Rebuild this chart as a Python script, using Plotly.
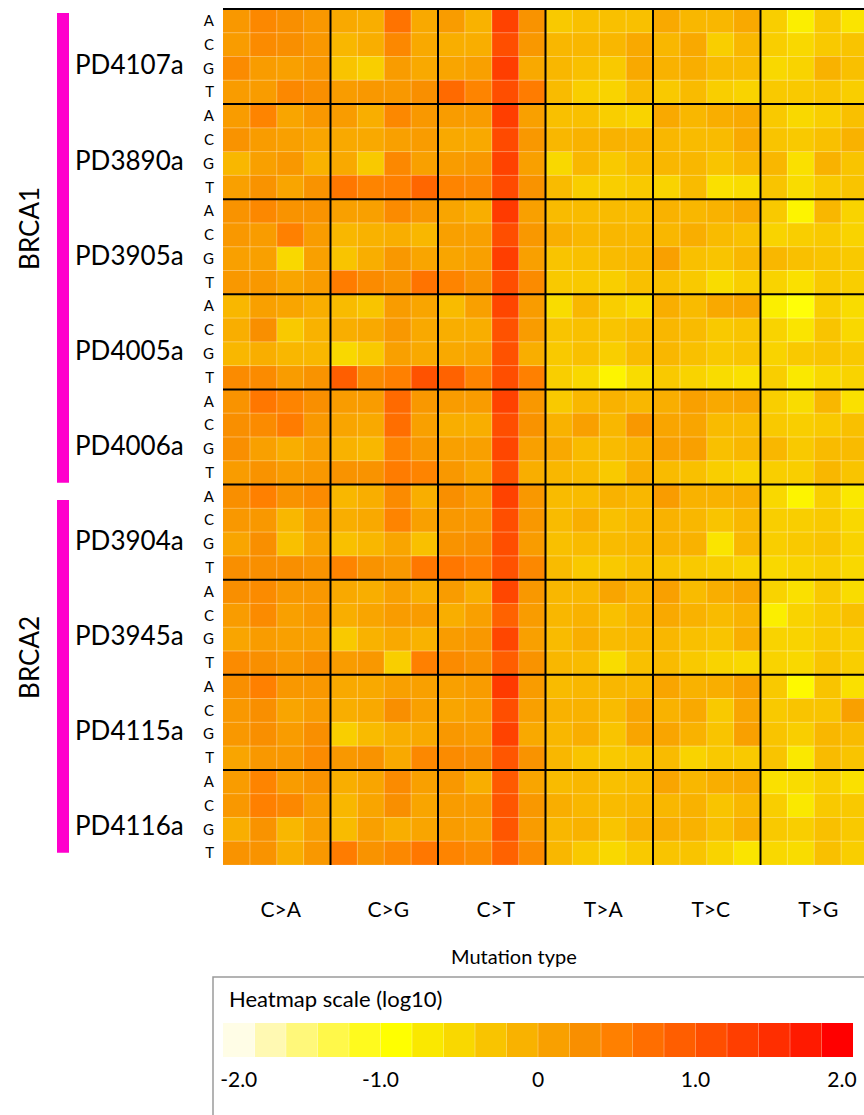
import plotly.graph_objects as go

# ---------------- data ----------------
mutation_types = ["C>A", "C>G", "C>T", "T>A", "T>C", "T>G"]
bases = ["A", "C", "G", "T"]
samples = ["PD4107a", "PD3890a", "PD3905a", "PD4005a", "PD4006a",
           "PD3904a", "PD3945a", "PD4115a", "PD4116a"]
group_names = ["BRCA1", "BRCA2"]
group_sizes = [5, 4]

# log10 values; each sample: 4 rows (5' base A,C,G,T) x 24 columns (6 types x 4 bases)
PD4107a = [
    [0.2, 0.4, 0.3, 0.2, 0.0, -0.05, 0.65, 0.0, 0.15, -0.1, 1.25, 0.25, -0.35, -0.25, -0.25, -0.25, 0.0, -0.15, -0.15, 0.0, -0.4, -0.75, -0.35, -0.65],
    [0.15, 0.35, 0.3, 0.2, -0.15, -0.05, 0.4, 0.0, -0.05, -0.05, 1.1, 0.2, -0.15, -0.15, -0.15, 0.0, -0.15, 0.0, -0.4, -0.15, -0.4, -0.5, -0.35, -0.3],
    [0.35, 0.15, 0.1, 0.2, -0.3, -0.4, 0.15, 0.0, 0.05, 0.1, 1.3, 0.0, -0.15, -0.25, -0.35, 0.0, -0.1, -0.05, -0.2, -0.2, -0.5, -0.45, -0.1, -0.25],
    [0.15, 0.15, 0.4, 0.3, 0.15, 0.2, 0.2, 0.3, 0.75, 0.45, 1.1, 0.55, -0.2, -0.4, -0.45, -0.2, -0.35, -0.2, -0.4, -0.45, -0.35, -0.35, -0.3, -0.4],
]
PD3890a = [
    [0.15, 0.45, 0.05, 0.2, 0.15, -0.05, 0.4, 0.2, 0.15, 0.15, 1.3, 0.1, -0.25, -0.25, -0.4, -0.45, 0.0, -0.15, -0.05, 0.0, -0.35, -0.5, -0.4, -0.25],
    [0.25, 0.15, 0.1, 0.05, 0.0, 0.0, 0.1, 0.15, 0.0, 0.0, 1.15, 0.2, -0.15, -0.1, -0.1, -0.1, -0.15, -0.2, -0.2, 0.0, -0.3, -0.35, -0.25, -0.1],
    [-0.15, 0.1, 0.2, -0.1, 0.0, -0.35, 0.4, 0.1, 0.15, 0.2, 1.25, 0.1, -0.5, -0.15, -0.35, -0.2, -0.15, -0.15, -0.3, -0.15, -0.15, -0.6, -0.1, -0.3],
    [0.1, 0.25, 0.05, 0.25, 0.6, 0.45, 0.5, 0.8, 0.45, 0.4, 1.15, 0.25, -0.2, -0.4, -0.4, -0.35, -0.45, -0.2, -0.6, -0.55, -0.3, -0.55, -0.35, -0.3],
]
PD3905a = [
    [0.25, 0.4, 0.25, 0.25, 0.1, 0.1, 0.35, 0.2, 0.05, -0.05, 1.35, 0.1, -0.2, -0.2, -0.2, -0.2, -0.1, -0.15, -0.1, 0.0, -0.35, -0.8, -0.15, -0.45],
    [0.2, 0.15, 0.5, 0.15, -0.15, -0.1, -0.05, -0.15, 0.1, 0.1, 1.1, 0.2, -0.05, -0.15, -0.15, -0.15, -0.15, -0.05, -0.2, -0.25, -0.45, -0.4, -0.35, -0.45],
    [0.1, 0.1, -0.5, 0.1, -0.3, -0.05, 0.2, 0.05, 0.05, 0.1, 1.3, 0.1, -0.3, -0.25, -0.2, -0.15, 0.1, -0.25, -0.3, -0.15, -0.15, -0.25, -0.3, -0.35],
    [0.2, 0.2, 0.05, 0.15, 0.55, 0.35, 0.25, 0.65, 0.45, 0.25, 1.1, 0.35, -0.35, -0.35, -0.4, -0.25, -0.25, -0.35, -0.55, -0.4, -0.45, -0.6, -0.35, -0.4],
]
PD4005a = [
    [-0.15, 0.1, 0.05, -0.05, -0.2, -0.3, 0.15, 0.05, -0.2, 0.1, 1.2, 0.15, -0.55, -0.15, -0.4, -0.5, -0.05, -0.2, 0.0, 0.05, -0.75, -0.95, -0.4, -0.55],
    [-0.05, 0.3, -0.35, -0.1, -0.05, 0.0, 0.2, 0.0, -0.05, -0.05, 1.05, 0.15, -0.3, -0.25, -0.3, -0.2, -0.15, -0.2, -0.35, -0.3, -0.45, -0.65, -0.3, -0.5],
    [-0.15, -0.05, -0.15, -0.15, -0.5, -0.35, 0.1, 0.0, 0.0, 0.05, 1.05, -0.05, -0.35, -0.25, -0.4, -0.2, -0.15, -0.25, -0.35, -0.3, -0.45, -0.35, -0.3, -0.35],
    [0.35, 0.35, 0.15, 0.25, 0.9, 0.35, 0.5, 1.05, 0.85, 0.45, 1.1, 0.5, -0.4, -0.5, -0.8, -0.55, -0.35, -0.45, -0.55, -0.6, -0.4, -0.7, -0.5, -0.45],
]
PD4006a = [
    [0.25, 0.6, 0.45, 0.3, 0.15, 0.15, 0.75, 0.2, 0.15, 0.15, 1.25, 0.2, -0.35, -0.15, -0.1, -0.15, -0.05, 0.1, 0.0, 0.05, -0.4, -0.55, -0.15, -0.6],
    [0.3, 0.35, 0.55, 0.2, 0.05, 0.0, 0.7, 0.1, -0.05, -0.05, 1.1, 0.25, -0.1, 0.1, -0.15, 0.2, 0.05, 0.05, -0.2, -0.2, -0.35, -0.4, -0.35, -0.25],
    [0.3, 0.1, -0.05, 0.1, -0.1, -0.15, 0.45, 0.2, 0.1, 0.1, 1.2, 0.1, 0.0, -0.2, -0.2, -0.1, 0.1, 0.1, -0.25, -0.15, -0.15, -0.35, -0.2, -0.2],
    [0.15, 0.25, 0.15, 0.2, 0.25, 0.25, 0.55, 0.45, 0.2, 0.05, 1.05, -0.05, -0.15, -0.2, -0.35, -0.05, -0.2, -0.25, -0.4, -0.45, -0.4, -0.4, -0.15, -0.3],
]
PD3904a = [
    [0.3, 0.5, 0.25, 0.35, -0.15, -0.05, 0.35, -0.05, 0.3, 0.15, 1.25, 0.2, -0.2, -0.2, -0.1, -0.15, 0.15, -0.1, -0.1, -0.05, -0.5, -0.8, -0.4, -0.7],
    [0.2, 0.2, -0.15, 0.15, -0.05, 0.0, 0.45, 0.1, 0.2, 0.2, 1.1, 0.2, -0.2, -0.05, -0.25, -0.15, -0.1, -0.15, -0.3, -0.15, -0.4, -0.4, -0.35, -0.5],
    [0.05, 0.3, -0.25, 0.05, -0.25, -0.15, 0.05, -0.25, 0.25, 0.3, 1.1, 0.15, -0.25, -0.2, -0.2, -0.15, -0.1, -0.1, -0.65, -0.15, -0.4, -0.35, -0.3, -0.45],
    [0.3, 0.3, 0.3, 0.25, 0.45, 0.25, 0.2, 0.6, 0.6, 0.5, 1.05, 0.4, -0.2, -0.35, -0.35, -0.25, -0.3, -0.35, -0.4, -0.45, -0.5, -0.45, -0.4, -0.5],
]
PD3945a = [
    [0.3, 0.35, 0.2, 0.2, 0.0, -0.05, 0.1, -0.05, 0.15, -0.05, 1.2, 0.2, -0.15, -0.15, 0.05, -0.1, 0.1, -0.2, -0.05, 0.05, -0.45, -0.6, -0.35, -0.55],
    [0.15, 0.35, 0.1, 0.2, -0.05, 0.05, 0.15, 0.15, -0.05, 0.1, 0.85, 0.15, -0.15, -0.1, -0.25, -0.1, 0.0, -0.1, -0.2, -0.1, -0.75, -0.45, -0.35, -0.25],
    [0.05, 0.15, 0.1, 0.1, -0.35, -0.1, 0.0, -0.1, 0.15, 0.2, 1.2, 0.1, -0.2, -0.05, -0.2, -0.15, -0.15, -0.25, -0.3, -0.05, -0.45, -0.45, -0.35, -0.4],
    [0.35, 0.3, 0.2, 0.3, 0.15, 0.2, -0.4, 0.5, 0.35, 0.25, 0.9, 0.25, -0.15, -0.2, -0.55, -0.25, -0.2, -0.35, -0.45, -0.5, -0.45, -0.5, -0.3, -0.4],
]
PD4115a = [
    [0.3, 0.5, 0.2, 0.2, 0.0, 0.0, 0.1, 0.1, 0.1, 0.15, 1.35, 0.15, -0.2, -0.15, -0.15, -0.15, 0.05, -0.1, -0.05, 0.1, -0.35, -0.85, -0.3, -0.6],
    [0.2, 0.3, 0.05, 0.15, -0.05, 0.0, 0.3, 0.1, 0.05, 0.1, 1.1, 0.1, -0.1, -0.1, -0.2, 0.05, -0.1, 0.0, -0.35, 0.05, -0.35, -0.3, -0.3, 0.1],
    [0.2, 0.3, 0.15, 0.3, -0.4, -0.2, -0.05, 0.0, 0.2, 0.15, 1.25, 0.0, -0.15, -0.05, -0.3, 0.05, 0.05, -0.1, -0.3, 0.1, -0.3, -0.4, -0.15, -0.2],
    [0.05, 0.2, 0.2, 0.35, 0.2, 0.25, 0.0, 0.4, 0.35, 0.3, 1.0, 0.25, -0.15, -0.3, -0.35, -0.3, -0.2, -0.45, -0.35, -0.35, -0.3, -0.7, -0.2, -0.3],
]
PD4116a = [
    [0.15, 0.45, 0.15, 0.25, -0.05, 0.05, 0.35, 0.1, 0.2, -0.05, 0.95, 0.05, -0.2, -0.15, -0.25, -0.2, 0.05, -0.15, -0.05, 0.0, -0.6, -0.55, -0.4, -0.6],
    [0.2, 0.5, 0.4, 0.15, -0.15, 0.05, 0.3, 0.05, 0.15, 0.15, 1.0, 0.2, -0.05, -0.15, -0.2, -0.15, -0.15, -0.1, -0.3, -0.15, -0.4, -0.7, -0.35, -0.35],
    [-0.05, 0.25, -0.15, 0.1, -0.2, 0.1, -0.05, 0.05, 0.15, 0.1, 1.0, 0.15, -0.15, -0.1, -0.3, -0.1, -0.05, -0.1, -0.25, -0.05, -0.35, -0.4, -0.25, -0.35],
    [0.25, 0.25, -0.05, 0.2, 0.55, 0.25, 0.4, 0.6, 0.45, 0.35, 0.85, 0.35, -0.15, -0.35, -0.5, -0.35, -0.3, -0.3, -0.45, -0.65, -0.5, -0.55, -0.25, -0.4],
]
sample_values = [PD4107a, PD3890a, PD3905a, PD4005a, PD4006a,
                 PD3904a, PD3945a, PD4115a, PD4116a]

scale_colors = ["#FFFDE6", "#FFF9B2", "#FFF87A", "#FFF84A", "#FFFA1E",
                "#FFFF00", "#FAE800", "#F9D800", "#F9C400", "#F9B200",
                "#F9A000", "#F98F00", "#FF8000", "#FF6E00", "#FF5E00",
                "#FF4E00", "#FF3E00", "#FF2E00", "#FF1A00", "#FF0000"]
scale_min, scale_max = -2.0, 2.0
legend_tick_text = ["-2.0", "-1.0", "0", "1.0", "2.0"]
legend_tick_pos = [-1.9, -1.0, 0.0, 1.0, 1.93]

# ---------------- build ----------------
FONT = "Lato, 'Open Sans', sans-serif"
z = [row for s in sample_values for row in s]
n_rows = len(z)
n_cols = len(z[0])
n_b = len(bases)

nsteps = len(scale_colors)
step = (scale_max - scale_min) / nsteps
cscale = [[0.0, scale_colors[0]]]
for i, c in enumerate(scale_colors):
    cscale.append([(i + 0.5) / nsteps, c])
cscale.append([1.0, scale_colors[-1]])

fig = go.Figure()
fig.add_trace(go.Heatmap(
    z=z, x=list(range(n_cols)), y=list(range(n_rows)),
    colorscale=cscale, zmin=scale_min, zmax=scale_max,
    showscale=False, hoverongaps=False, xaxis="x", yaxis="y"))

legend_centers = [scale_min + (i + 0.5) * step for i in range(nsteps)]
fig.add_trace(go.Heatmap(
    z=[legend_centers], x=legend_centers, y=[0],
    colorscale=cscale, zmin=scale_min, zmax=scale_max,
    showscale=False, xaxis="x2", yaxis="y2"))

# pixel helpers for layout placement
W, H = 864, 1115
ML, MT, MB = 223, 8, 58
PW = W - ML
PH = H - MT - MB
def px_x(p):
    return (p - ML) / PW
def px_y(p):
    return (H - MB - p) / PH

row_px = 23.78
col_px = 26.875
main_bottom = 865
x_end = -0.5 + PW / col_px
y_top = -0.5 - (main_bottom - MT - n_rows * row_px) / row_px

shapes = []
# faint cell separators
for i in range(1, n_cols):
    if i % n_b:
        shapes.append(dict(type="line", xref="x", yref="y", x0=i - 0.5, x1=i - 0.5,
                           y0=-0.5, y1=n_rows - 0.5, layer="above",
                           line=dict(color="rgba(255,255,255,0.35)", width=1)))
for j in range(1, n_rows):
    if j % n_b:
        shapes.append(dict(type="line", xref="x", yref="y", x0=-0.5, x1=n_cols - 0.5,
                           y0=j - 0.5, y1=j - 0.5, layer="above",
                           line=dict(color="rgba(255,255,255,0.35)", width=1)))
# black block separators
for i in range(n_b, n_cols, n_b):
    shapes.append(dict(type="line", xref="x", yref="y", x0=i - 0.5, x1=i - 0.5,
                       y0=-0.5, y1=n_rows - 0.5, layer="above",
                       line=dict(color="black", width=2)))
for j in range(0, n_rows, n_b):
    shapes.append(dict(type="line", xref="x", yref="y", x0=-0.5, x1=n_cols - 0.5,
                       y0=j - 0.5, y1=j - 0.5, layer="above",
                       line=dict(color="black", width=2)))
# legend faint separators
for i in range(1, nsteps):
    xv = scale_min + i * step
    shapes.append(dict(type="line", xref="x2", yref="y2", x0=xv, x1=xv, y0=-0.5, y1=0.5,
                       layer="above", line=dict(color="rgba(255,255,255,0.3)", width=1)))
# legend box
shapes.append(dict(type="rect", xref="paper", yref="paper",
                   x0=px_x(213), x1=1.05, y0=px_y(977), y1=px_y(1122),
                   line=dict(color="#9a9a9a", width=1.5), fillcolor="rgba(0,0,0,0)"))
# group bars
bar_insets = [(0.17, 0.07), (0.65, 0.51)]
annotations = []
start = 0
group_label_y = [8.75, 26.79]
for g, (name, size) in enumerate(zip(group_names, group_sizes)):
    r0 = start * n_b - 0.5 + bar_insets[g][0]
    r1 = (start + size) * n_b - 0.5 - bar_insets[g][1]
    shapes.append(dict(type="rect", xref="paper", yref="y",
                       x0=px_x(57), x1=px_x(69), y0=r0, y1=r1,
                       line=dict(width=0), fillcolor="#FF00CC"))
    annotations.append(dict(text=name, xref="paper", yref="y", x=px_x(29), y=group_label_y[g],
                            textangle=-90, showarrow=False, xanchor="center", yanchor="middle",
                            font=dict(family=FONT, size=26, color="black")))
    start += size

for k, s in enumerate(samples):
    annotations.append(dict(text=s, xref="paper", yref="y", x=px_x(186), y=k * n_b + 1.5,
                            yshift=-8, showarrow=False, xanchor="right", yanchor="middle",
                            font=dict(family=FONT, size=26, color="black")))

annotations.append(dict(text="Mutation type", xref="paper", yref="paper",
                        x=px_x(514), y=px_y(956), showarrow=False,
                        xanchor="center", yanchor="middle",
                        font=dict(family=FONT, size=20, color="black")))
annotations.append(dict(text="Heatmap scale (log10)", xref="paper", yref="paper",
                        x=px_x(227), y=px_y(998), showarrow=False,
                        xanchor="left", yanchor="middle",
                        font=dict(family=FONT, size=22, color="black")))

fig.update_layout(
    width=W, height=H,
    margin=dict(l=ML, r=0, t=MT, b=MB, pad=0, autoexpand=False),
    paper_bgcolor="white", plot_bgcolor="white",
    font=dict(family=FONT, color="black"),
    xaxis=dict(domain=[0, 1], range=[-0.5, x_end], anchor="y", automargin=False,
               tickvals=[n_b * i + (n_b - 1) / 2 for i in range(len(mutation_types))],
               ticktext=mutation_types, ticks="", showgrid=False, zeroline=False,
               showline=False, ticklabelstandoff=30, ticklabelshift=4,
               tickfont=dict(family=FONT, size=21, color="black")),
    yaxis=dict(domain=[px_y(main_bottom), 1], range=[n_rows - 0.5, y_top], anchor="x",
               automargin=False,
               tickvals=list(range(n_rows)), ticktext=bases * len(samples),
               ticks="", showgrid=False, zeroline=False, showline=False,
               ticklabelstandoff=8,
               tickfont=dict(family=FONT, size=15, color="black")),
    xaxis2=dict(domain=[0, px_x(853)], range=[scale_min, scale_max], anchor="y2",
                automargin=False,
                tickvals=legend_tick_pos, ticktext=legend_tick_text, ticks="",
                showgrid=False, zeroline=False, showline=False,
                ticklabelstandoff=8, ticklabeloverflow="allow",
                tickfont=dict(family=FONT, size=21, color="black")),
    yaxis2=dict(domain=[0, px_y(1023)], range=[-0.5, 0.5], anchor="x2", automargin=False,
                showticklabels=False, ticks="", showgrid=False, zeroline=False),
    shapes=shapes,
    annotations=annotations,
)

fig.write_html("out.html")
